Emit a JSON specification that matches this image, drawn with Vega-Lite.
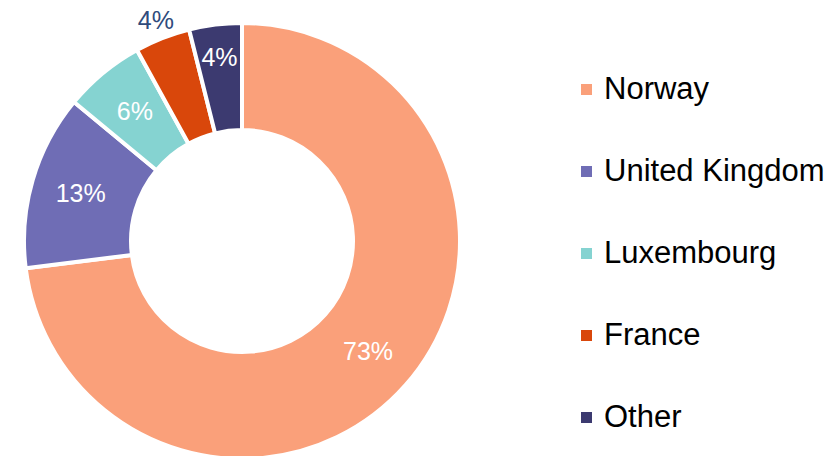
{
  "$schema": "https://vega.github.io/schema/vega-lite/v6.json",
  "width": 484,
  "height": 430,
  "autosize": {"type": "none"},
  "padding": {"left": 0, "top": 26, "right": 352, "bottom": 0},
  "background": "white",
  "config": {"view": {"stroke": null}, "font": "Liberation Sans"},
  "data": {
    "values": [
      {"Country": "Norway", "Share": 0.730},
      {"Country": "United Kingdom", "Share": 0.130},
      {"Country": "Luxembourg", "Share": 0.060},
      {"Country": "France", "Share": 0.041},
      {"Country": "Other", "Share": 0.039}
    ]
  },
  "encoding": {
    "theta": {"field": "Share", "type": "quantitative", "stack": true},
    "order": {"field": "Share", "type": "quantitative", "sort": "descending"}
  },
  "layer": [
    {
      "mark": {"type": "arc", "outerRadius": 218, "innerRadius": 111, "stroke": "white", "strokeWidth": 4},
      "encoding": {
        "color": {
          "field": "Country",
          "type": "nominal",
          "scale": {
            "domain": ["Norway", "United Kingdom", "Luxembourg", "France", "Other"],
            "range": ["#FAA07A", "#6F6DB5", "#85D3D1", "#D9470B", "#3C3A70"]
          },
          "legend": {
            "orient": "none",
            "legendX": 571,
            "legendY": 48,
            "title": null,
            "padding": 0,
            "symbolType": "square",
            "symbolSize": 121,
            "symbolStrokeWidth": 0,
            "labelFontSize": 31,
            "labelFont": "Liberation Sans",
            "labelColor": "#000000",
            "labelOffset": 2,
            "labelLimit": 0,
            "rowPadding": 50
          }
        }
      }
    },
    {
      "mark": {"type": "text", "radius": 168, "fontSize": 25, "fill": "white", "font": "Liberation Sans", "baseline": "middle", "align": "center"},
      "encoding": {
        "text": {"condition": {"test": "datum.Country !== 'France' && datum.Country !== 'Other'", "field": "Share", "type": "quantitative", "format": ".0%"}, "value": ""}
      }
    },
    {
      "mark": {"type": "text", "radius": 184, "fontSize": 25, "fill": "white", "font": "Liberation Sans", "baseline": "middle", "align": "center"},
      "encoding": {
        "text": {"condition": {"test": "datum.Country === 'Other'", "field": "Share", "type": "quantitative", "format": ".0%"}, "value": ""}
      }
    },
    {
      "mark": {"type": "text", "radius": 236, "fontSize": 25, "fill": "#2F4B7C", "font": "Liberation Sans", "baseline": "middle", "align": "center"},
      "encoding": {
        "text": {"condition": {"test": "datum.Country === 'France'", "field": "Share", "type": "quantitative", "format": ".0%"}, "value": ""}
      }
    }
  ]
}
